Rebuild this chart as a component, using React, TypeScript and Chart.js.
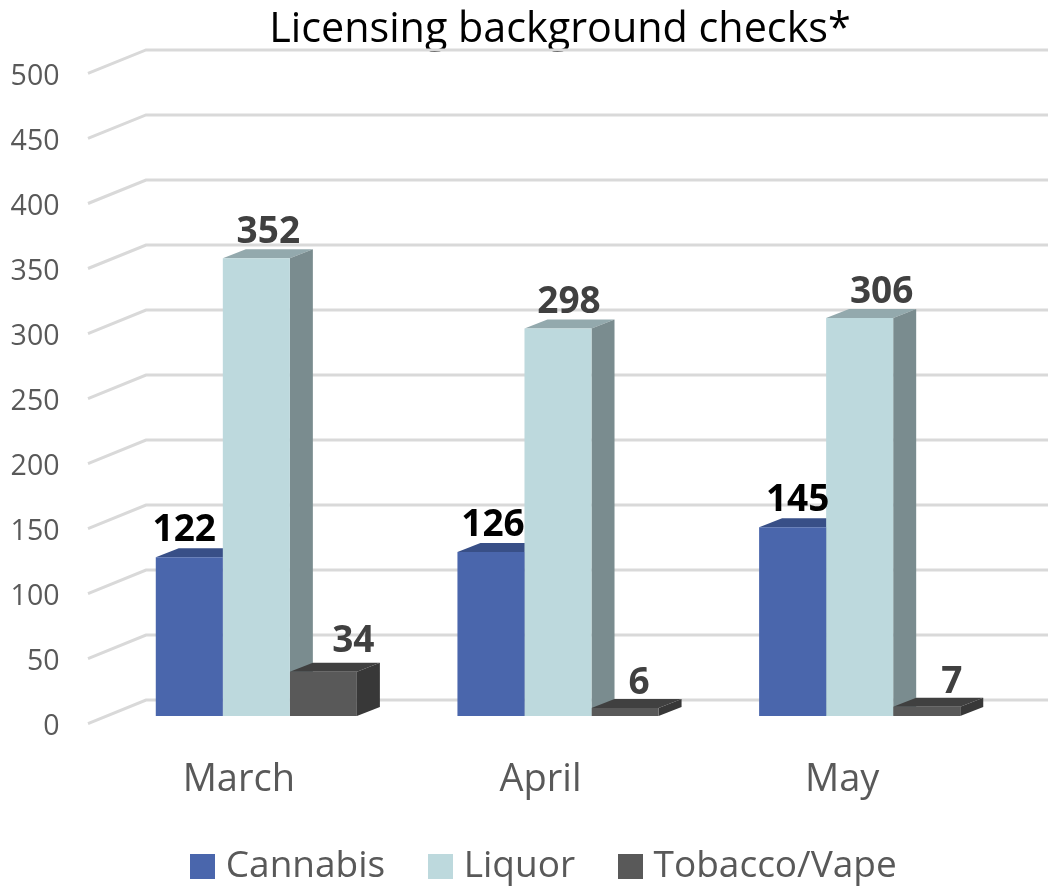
import React, { useEffect, useRef } from "react";
import { Chart, registerables } from "chart.js";

Chart.register(...registerables);

const categories = ["March", "April", "May"];
const cannabis = [122, 126, 145];
const liquor = [352, 298, 306];
const tobacco = [34, 6, 7];
const seriesNames = ["Cannabis", "Liquor", "Tobacco/Vape"];
const yTicks = [0, 50, 100, 150, 200, 250, 300, 350, 400, 450, 500];

const FONT = "'Open Sans'";
const TEXT = "#595959";
const frontColors = ["#4a66ac", "#bdd9dd", "#595959"];
const topColors = ["#384f87", "#93a9ad", "#404040"];
const sideColors = ["#2f4270", "#7a8c8f", "#383838"];
const labelColors = ["#000000", "#404040", "#404040"];
// label placement relative to the bar's top centre
const labelDx = [
  [-5, 2, 5],
  [12, 11, 22],
  [30, 14, 25],
];
const labelDy = [
  [16, 16, 16],
  [15, 15, 15],
  [20, 14, 14],
];
const BAR_DX = 23;
const BAR_DY = 9;
const SWATCH = 25;

function makeSwatch(color: string) {
  const c = document.createElement("canvas");
  c.width = SWATCH;
  c.height = SWATCH;
  const g = c.getContext("2d")!;
  g.fillStyle = color;
  g.fillRect(0, 0, SWATCH, SWATCH);
  return c;
}

const depthPlugin = {
  id: "depth",
  beforeDraw(chart: any) {
    // title and legend are centred on their own spans, not on the plot
    chart.titleBlock.left = 72;
    chart.titleBlock.right = 1048;
    chart.legend.left = 46;
    chart.legend.right = 1048;
    chart.legend.top = 798;
    // category labels are clipped to the scale box: let them reach the legend
    chart.scales.x.bottom = 830;
  },
  beforeDatasetsDraw(chart: any) {
    const { ctx, scales, chartArea } = chart;
    const y = scales.y;
    ctx.save();
    ctx.strokeStyle = "#d9d9d9";
    ctx.lineWidth = 3;
    yTicks.forEach((t) => {
      const py = y.getPixelForValue(t);
      ctx.beginPath();
      ctx.moveTo(chartArea.left - 17.5, py + 7.7);
      ctx.lineTo(chartArea.left + 40.5, py - 15.8);
      ctx.lineTo(1048, py - 15.8);
      ctx.stroke();
    });
    chart.data.datasets.forEach((_: any, di: number) => {
      chart.getDatasetMeta(di).data.forEach((bar: any) => {
        const l = bar.x - bar.width / 2;
        const r = bar.x + bar.width / 2;
        const t = bar.y;
        const b = bar.base;
        ctx.fillStyle = topColors[di];
        ctx.beginPath();
        ctx.moveTo(l, t);
        ctx.lineTo(l + BAR_DX, t - BAR_DY);
        ctx.lineTo(r + BAR_DX, t - BAR_DY);
        ctx.lineTo(r, t);
        ctx.closePath();
        ctx.fill();
        ctx.fillStyle = sideColors[di];
        ctx.beginPath();
        ctx.moveTo(r, t);
        ctx.lineTo(r + BAR_DX, t - BAR_DY);
        ctx.lineTo(r + BAR_DX, b - BAR_DY);
        ctx.lineTo(r, b);
        ctx.closePath();
        ctx.fill();
      });
    });
    ctx.restore();
  },
  afterDatasetsDraw(chart: any) {
    const { ctx } = chart;
    ctx.save();
    ctx.font = `bold 37px ${FONT}`;
    ctx.textAlign = "center";
    ctx.textBaseline = "alphabetic";
    chart.data.datasets.forEach((ds: any, di: number) => {
      ctx.fillStyle = labelColors[di];
      chart.getDatasetMeta(di).data.forEach((bar: any, i: number) => {
        ctx.fillText(String(ds.data[i]), bar.x + labelDx[di][i], bar.y - labelDy[di][i]);
      });
    });
    ctx.restore();
  },
};

export default function App() {
  const ref = useRef<HTMLCanvasElement>(null);
  useEffect(() => {
    const swatches = frontColors.map(makeSwatch);
    const chart = new Chart(ref.current!, {
      type: "bar",
      plugins: [depthPlugin],
      data: {
        labels: categories,
        datasets: [cannabis, liquor, tobacco].map((data, i) => ({
          label: seriesNames[i],
          data,
          backgroundColor: frontColors[i],
          categoryPercentage: 2 / 3,
          barPercentage: 1,
        })),
      },
      options: {
        responsive: false,
        animation: false,
        layout: { padding: { top: 0, right: 37.5, bottom: 0, left: 0 } },
        plugins: {
          tooltip: { enabled: false },
          title: {
            display: true,
            text: "Licensing background checks*",
            color: "#000000",
            font: { family: FONT, size: 41.3, weight: "normal" },
            padding: { top: 5, bottom: 11.2 },
          },
          legend: {
            position: "bottom",
            labels: {
              color: TEXT,
              font: { family: FONT, size: 37 },
              usePointStyle: true,
              pointStyleWidth: 10,
              boxHeight: SWATCH,
              padding: 50,
              generateLabels: () =>
                seriesNames.map((text, i) => ({
                  text,
                  datasetIndex: i,
                  pointStyle: swatches[i],
                  fillStyle: frontColors[i],
                  fontColor: TEXT,
                  lineWidth: 0,
                  hidden: false,
                })),
            },
          },
        },
        scales: {
          x: {
            grid: { display: false },
            border: { display: false },
            afterFit: (s: any) => { s.height = 74.1; },
            ticks: { color: TEXT, font: { family: FONT, size: 38 }, labelOffset: -17.5, padding: 33.4, maxRotation: 0 },
          },
          y: {
            min: 0,
            max: 500,
            grid: { display: false },
            border: { display: false },
            afterFit: (s: any) => { s.width = 105.5; },
            ticks: { color: TEXT, stepSize: 50, font: { family: FONT, size: 28.5 }, labelOffset: 11, padding: 38 },
          },
        },
      },
    });
    return () => chart.destroy();
  }, []);
  return (
    <canvas
      ref={ref}
      width={1048}
      height={887}
      style={{ position: "fixed", left: 0, top: 0, display: "block" }}
    />
  );
}
